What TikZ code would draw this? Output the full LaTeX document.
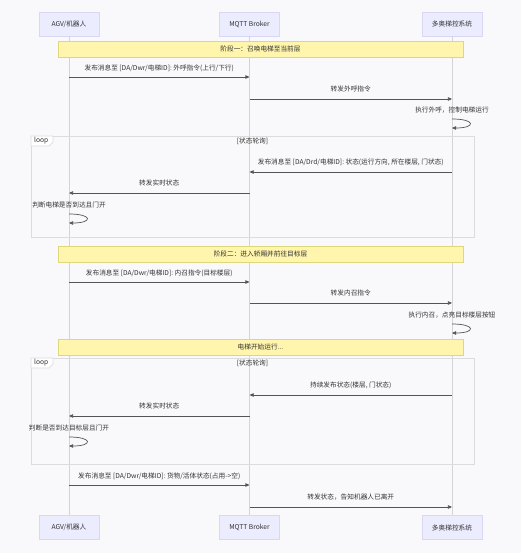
\documentclass[tikz,border=0pt]{standalone}
\usepackage{fontspec}
\newfontfamily\cjk{Noto Sans CJK SC}
\usetikzlibrary{arrows.meta}
\definecolor{actorfill}{HTML}{ECECFF}
\definecolor{actorline}{HTML}{DAD7F4}
\definecolor{notefill}{HTML}{FFF5AD}
\definecolor{noteline}{HTML}{DDD77E}
\definecolor{lifeline}{HTML}{D4D4D4}
\definecolor{loopline}{HTML}{DCDCDC}
\definecolor{msgline}{HTML}{555555}
\definecolor{txt}{HTML}{333333}
\definecolor{bg}{HTML}{F9F9FB}

\begin{document}
\begin{tikzpicture}[x=0.03cm,y=-0.03cm,
	small/.style={font=\cjk\fontsize{5.7}{6.5}\selectfont,text=txt},
	actor/.style={small,draw=actorline,fill=actorfill,minimum width=1.8cm,minimum height=0.72cm,inner sep=0pt},
	phase/.style={small,draw=noteline,fill=notefill,minimum width=12.15cm,minimum height=0.48cm,inner sep=0pt},
	msg/.style={draw=msgline,line width=0.6pt,-{Triangle[length=3.5pt,width=3pt]}},
	lbl/.style={small,inner sep=0pt},
	life/.style={draw=lifeline,line width=0.5pt},
	loopbox/.style={draw=loopline,line width=0.6pt}]
	\useasboundingbox[fill=bg] (0,0) rectangle (521,553);
	% participants, top and bottom
	\node[actor] (agvT) at (69,24) {AGV/机器人};
	\node[actor] (mqttT) at (249.5,24) {MQTT Broker};
	\node[actor] (ctrlT) at (452,24) {多奥梯控系统};
	\node[actor] (agvB) at (69,527.5) {AGV/机器人};
	\node[actor] (mqttB) at (249.5,527.5) {MQTT Broker};
	\node[actor] (ctrlB) at (452,527.5) {多奥梯控系统};
	\foreach \p in {agv,mqtt,ctrl}
		\draw[life] (\p T.south) -- (\p B.north);
	% loop frames
	\draw[loopbox] (31,136) rectangle (474,237);
	\draw[loopbox,fill=white] (31,136) -- (53,136) -- (53,142) -- (49,146) -- (31,146) -- cycle;
	\node[lbl,anchor=west] (loopA) at (34,141) {loop};
	\node[lbl] (condA) at (252.5,141) {[状态轮询]};
	\draw[loopbox] (31,358) rectangle (474,464);
	\draw[loopbox,fill=white] (31,358) -- (53,358) -- (53,364) -- (49,368) -- (31,368) -- cycle;
	\node[lbl,anchor=west] (loopB) at (34,363) {loop};
	\node[lbl] (condB) at (252.5,363) {[状态轮询]};
	% notes
	\node[phase] (ph1) at (260.5,49) {阶段一：召唤电梯至当前层};
	\node[phase] (ph2) at (260.5,254) {阶段二：进入轿厢并前往目标层};
	\node[phase] (ph3) at (260.5,347) {电梯开始运行...};
	% stage one
	\path (agvT |- 0,77) coordinate (m1a) (mqttT |- 0,77) coordinate (m1b);
	\draw[msg] (m1a) -- node[lbl,midway,yshift=7.7pt] {发布消息至 [DA/Dwr/电梯ID]: 外呼指令(上行/下行)} (m1b);
	\path (mqttT |- 0,99) coordinate (m2a) (ctrlT |- 0,99) coordinate (m2b);
	\draw[msg] (m2a) -- node[lbl,midway,yshift=8.5pt] {转发外呼指令} (m2b);
	\node[lbl] (s1) at (ctrlT |- 0,110) {执行外呼，控制电梯运行};
	\path (ctrlT |- 0,119) coordinate (s1a) (ctrlT |- 0,128) coordinate (s1b);
	\draw[msg] (s1a) .. controls +(24,0) and +(24,0) .. (s1b);
	\path (ctrlT |- 0,172) coordinate (m3a) (mqttT |- 0,172) coordinate (m3b);
	\draw[msg] (m3a) -- node[lbl,midway,yshift=8.5pt] {发布消息至 [DA/Drd/电梯ID]: 状态(运行方向, 所在楼层, 门状态)} (m3b);
	\path (mqttT |- 0,193) coordinate (m4a) (agvT |- 0,193) coordinate (m4b);
	\draw[msg] (m4a) -- node[lbl,midway,yshift=8.5pt] {转发实时状态} (m4b);
	\node[lbl] (s2) at (agvT |- 0,205) {判断电梯是否到达且门开};
	\path (agvT |- 0,214) coordinate (s2a) (agvT |- 0,223) coordinate (s2b);
	\draw[msg] (s2a) .. controls +(24,0) and +(24,0) .. (s2b);
	% stage two
	\path (agvT |- 0,282) coordinate (m5a) (mqttT |- 0,282) coordinate (m5b);
	\draw[msg] (m5a) -- node[lbl,midway,yshift=7.7pt] {发布消息至 [DA/Dwr/电梯ID]: 内召指令(目标楼层)} (m5b);
	\path (mqttT |- 0,303) coordinate (m6a) (ctrlT |- 0,303) coordinate (m6b);
	\draw[msg] (m6a) -- node[lbl,midway,yshift=8.5pt] {转发内召指令} (m6b);
	\node[lbl] (s3) at (ctrlT |- 0,315) {执行内召，点亮目标楼层按钮};
	\path (ctrlT |- 0,324) coordinate (s3a) (ctrlT |- 0,333) coordinate (s3b);
	\draw[msg] (s3a) .. controls +(24,0) and +(24,0) .. (s3b);
	\path (ctrlT |- 0,395) coordinate (m7a) (mqttT |- 0,395) coordinate (m7b);
	\draw[msg] (m7a) -- node[lbl,midway,yshift=8.5pt] {持续发布状态(楼层, 门状态)} (m7b);
	\path (mqttT |- 0,416) coordinate (m8a) (agvT |- 0,416) coordinate (m8b);
	\draw[msg] (m8a) -- node[lbl,midway,yshift=8.5pt] {转发实时状态} (m8b);
	\node[lbl] (s4) at (agvT |- 0,428) {判断是否到达目标层且门开};
	\path (agvT |- 0,437) coordinate (s4a) (agvT |- 0,446) coordinate (s4b);
	\draw[msg] (s4a) .. controls +(24,0) and +(24,0) .. (s4b);
	% leaving the car
	\path (agvT |- 0,485) coordinate (m9a) (mqttT |- 0,485) coordinate (m9b);
	\draw[msg] (m9a) -- node[lbl,midway,yshift=7.7pt] {发布消息至 [DA/Dwr/电梯ID]: 货物/活体状态(占用->空)} (m9b);
	\path (mqttT |- 0,507) coordinate (m10a) (ctrlT |- 0,507) coordinate (m10b);
	\draw[msg] (m10a) -- node[lbl,midway,yshift=8.5pt] {转发状态，告知机器人已离开} (m10b);
\end{tikzpicture}
\end{document}
